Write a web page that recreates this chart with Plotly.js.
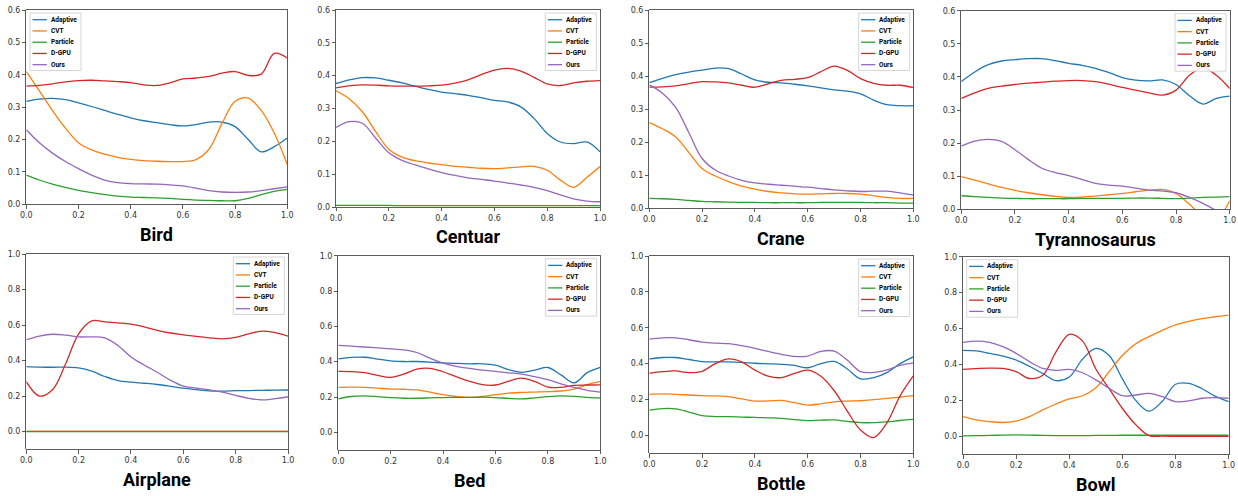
<!DOCTYPE html>
<html><head><meta charset="utf-8">
<script src="https://cdn.plot.ly/plotly-3.0.1.min.js"></script>
<style>html,body{margin:0;padding:0;background:#fff}#chart{width:1238px;height:496px}</style>
</head><body><div id="chart"></div>
<script>
// ---------- data ----------
const xs = [0,0.05,0.1,0.15,0.2,0.25,0.3,0.35,0.4,0.45,0.5,0.55,0.6,0.65,0.7,0.75,0.8,0.85,0.9,0.95,1.0];
const seriesNames = ['Adaptive','CVT','Particle','D-GPU','Ours'];
const panelTitles = ['Bird','Centuar','Crane','Tyrannosaurus','Airplane','Bed','Bottle','Bowl'];
const xTickVals = [0,0.2,0.4,0.6,0.8,1.0];
const yTickValsTop = [0,0.1,0.2,0.3,0.4,0.5,0.6];
const yTickValsBottom = [0,0.2,0.4,0.6,0.8,1.0];

const birdAdaptive = [0.318,0.325,0.327,0.323,0.313,0.302,0.290,0.278,0.267,0.258,0.252,0.246,0.242,0.246,0.254,0.254,0.240,0.200,0.162,0.178,0.205];
const birdCVT      = [0.410,0.350,0.290,0.235,0.190,0.168,0.155,0.145,0.139,0.135,0.133,0.132,0.132,0.138,0.170,0.250,0.318,0.328,0.290,0.220,0.123];
const birdParticle = [0.090,0.075,0.062,0.052,0.043,0.036,0.030,0.025,0.022,0.021,0.020,0.018,0.015,0.013,0.012,0.011,0.011,0.018,0.030,0.040,0.046];
const birdDGPU     = [0.365,0.367,0.372,0.378,0.382,0.383,0.381,0.379,0.376,0.369,0.367,0.375,0.387,0.390,0.395,0.405,0.410,0.398,0.402,0.466,0.452];
const birdOurs     = [0.230,0.190,0.158,0.132,0.110,0.090,0.075,0.067,0.064,0.063,0.062,0.060,0.057,0.050,0.042,0.038,0.037,0.038,0.042,0.048,0.054];

const centuarAdaptive = [0.376,0.387,0.394,0.393,0.386,0.378,0.368,0.358,0.350,0.345,0.340,0.333,0.325,0.320,0.305,0.270,0.224,0.198,0.193,0.198,0.168];
const centuarCVT      = [0.354,0.330,0.290,0.230,0.176,0.152,0.141,0.134,0.129,0.124,0.121,0.118,0.117,0.119,0.122,0.124,0.112,0.082,0.060,0.090,0.123];
const centuarParticle = [0.005,0.005,0.005,0.005,0.005,0.004,0.004,0.004,0.004,0.004,0.004,0.004,0.004,0.004,0.004,0.004,0.004,0.004,0.004,0.004,0.004];
const centuarDGPU     = [0.363,0.369,0.372,0.371,0.369,0.368,0.368,0.369,0.371,0.377,0.387,0.403,0.417,0.422,0.414,0.395,0.375,0.370,0.378,0.383,0.385];
const centuarOurs     = [0.242,0.260,0.255,0.210,0.165,0.142,0.128,0.116,0.105,0.096,0.089,0.084,0.079,0.073,0.067,0.060,0.050,0.037,0.025,0.018,0.016];

const craneAdaptive = [0.380,0.393,0.404,0.412,0.418,0.424,0.422,0.406,0.388,0.381,0.379,0.375,0.370,0.364,0.358,0.354,0.346,0.327,0.313,0.310,0.310];
const craneCVT      = [0.259,0.240,0.215,0.168,0.120,0.097,0.080,0.066,0.057,0.050,0.046,0.043,0.042,0.043,0.044,0.044,0.042,0.037,0.032,0.029,0.029];
const craneParticle = [0.029,0.028,0.026,0.023,0.020,0.019,0.018,0.017,0.017,0.016,0.016,0.016,0.016,0.017,0.017,0.017,0.017,0.016,0.016,0.015,0.015];
const craneDGPU     = [0.366,0.367,0.370,0.377,0.383,0.382,0.379,0.372,0.366,0.376,0.387,0.390,0.395,0.413,0.430,0.417,0.392,0.378,0.372,0.372,0.365];
const craneOurs     = [0.373,0.348,0.305,0.228,0.150,0.115,0.097,0.084,0.076,0.072,0.069,0.066,0.063,0.059,0.055,0.052,0.050,0.051,0.051,0.046,0.039];

const tyrAdaptive = [0.386,0.415,0.437,0.448,0.452,0.455,0.455,0.449,0.441,0.435,0.426,0.413,0.398,0.390,0.388,0.391,0.377,0.343,0.318,0.335,0.342];
const tyrCVT      = [0.099,0.088,0.077,0.066,0.057,0.050,0.044,0.039,0.036,0.037,0.040,0.044,0.048,0.053,0.058,0.060,0.048,0.015,-0.020,-0.030,0.026];
const tyrParticle = [0.041,0.038,0.036,0.034,0.033,0.032,0.032,0.032,0.032,0.033,0.033,0.033,0.033,0.034,0.034,0.033,0.032,0.034,0.036,0.037,0.038];
const tyrDGPU     = [0.335,0.352,0.365,0.372,0.377,0.381,0.384,0.387,0.389,0.389,0.386,0.378,0.368,0.360,0.352,0.345,0.360,0.405,0.427,0.405,0.365];
const tyrOurs     = [0.191,0.206,0.211,0.205,0.180,0.150,0.124,0.111,0.102,0.090,0.078,0.073,0.070,0.064,0.058,0.055,0.050,0.036,0.018,-0.004,-0.030];

const airAdaptive = [0.366,0.363,0.362,0.363,0.358,0.340,0.310,0.287,0.278,0.272,0.265,0.255,0.244,0.236,0.229,0.228,0.230,0.231,0.232,0.233,0.234];
const airCVT      = [0.002,0.002,0.002,0.002,0.002,0.002,0.002,0.002,0.002,0.002,0.002,0.002,0.002,0.002,0.002,0.002,0.002,0.002,0.002,0.002,0.002];
const airParticle = [0,0,0,0,0,0,0,0,0,0,0,0,0,0,0,0,0,0,0,0,0];
const airDGPU     = [0.281,0.200,0.235,0.380,0.550,0.623,0.618,0.612,0.605,0.590,0.570,0.555,0.545,0.536,0.528,0.522,0.530,0.550,0.566,0.557,0.537];
const airOurs     = [0.517,0.538,0.548,0.543,0.533,0.533,0.528,0.485,0.420,0.375,0.334,0.290,0.256,0.245,0.235,0.222,0.204,0.187,0.178,0.185,0.196];

const bedAdaptive = [0.416,0.424,0.425,0.415,0.405,0.401,0.401,0.398,0.393,0.390,0.388,0.388,0.380,0.355,0.340,0.352,0.367,0.325,0.280,0.338,0.368];
const bedCVT      = [0.254,0.256,0.255,0.250,0.245,0.244,0.240,0.228,0.213,0.203,0.198,0.203,0.213,0.222,0.226,0.228,0.230,0.234,0.245,0.270,0.288];
const bedParticle = [0.190,0.203,0.206,0.202,0.196,0.193,0.193,0.195,0.197,0.198,0.198,0.199,0.197,0.192,0.189,0.195,0.202,0.206,0.204,0.198,0.194];
const bedDGPU     = [0.345,0.344,0.338,0.322,0.311,0.330,0.358,0.362,0.343,0.315,0.289,0.270,0.268,0.290,0.307,0.288,0.256,0.255,0.266,0.268,0.269];
const bedOurs     = [0.492,0.488,0.483,0.478,0.473,0.467,0.452,0.420,0.392,0.373,0.362,0.352,0.345,0.337,0.330,0.315,0.298,0.275,0.254,0.238,0.228];

const bottleAdaptive = [0.426,0.434,0.434,0.423,0.411,0.410,0.410,0.407,0.402,0.399,0.396,0.390,0.377,0.400,0.412,0.370,0.315,0.322,0.350,0.400,0.438];
const bottleCVT      = [0.229,0.231,0.229,0.225,0.221,0.220,0.216,0.203,0.191,0.192,0.195,0.182,0.169,0.176,0.187,0.191,0.193,0.199,0.206,0.213,0.221];
const bottleParticle = [0.141,0.149,0.148,0.130,0.110,0.105,0.104,0.102,0.100,0.098,0.095,0.088,0.082,0.085,0.086,0.078,0.071,0.071,0.076,0.083,0.089];
const bottleDGPU     = [0.346,0.355,0.359,0.350,0.357,0.400,0.426,0.410,0.364,0.330,0.322,0.345,0.364,0.330,0.250,0.135,0.030,-0.012,0.070,0.220,0.331];
const bottleOurs     = [0.537,0.544,0.544,0.533,0.520,0.514,0.511,0.500,0.485,0.468,0.452,0.440,0.442,0.468,0.470,0.420,0.355,0.351,0.365,0.390,0.404];

const bowlAdaptive = [0.479,0.476,0.462,0.447,0.425,0.390,0.350,0.310,0.330,0.430,0.490,0.450,0.320,0.200,0.140,0.195,0.290,0.295,0.265,0.222,0.193];
const bowlCVT      = [0.110,0.092,0.082,0.077,0.085,0.110,0.147,0.180,0.208,0.226,0.270,0.360,0.450,0.515,0.555,0.590,0.620,0.640,0.655,0.666,0.675];
const bowlParticle = [0.003,0.004,0.005,0.007,0.008,0.007,0.005,0.004,0.004,0.004,0.005,0.005,0.006,0.006,0.006,0.006,0.006,0.006,0.006,0.006,0.006];
const bowlDGPU     = [0.373,0.377,0.380,0.378,0.360,0.322,0.340,0.470,0.568,0.530,0.375,0.265,0.155,0.065,0.004,0.001,0.000,0.000,0.000,0.000,0.000];
const bowlOurs     = [0.523,0.530,0.523,0.499,0.462,0.416,0.378,0.367,0.373,0.354,0.314,0.267,0.226,0.230,0.239,0.221,0.193,0.197,0.212,0.215,0.212];

// ---------- assembly ----------
const panelSeries = [
  [birdAdaptive, birdCVT, birdParticle, birdDGPU, birdOurs],
  [centuarAdaptive, centuarCVT, centuarParticle, centuarDGPU, centuarOurs],
  [craneAdaptive, craneCVT, craneParticle, craneDGPU, craneOurs],
  [tyrAdaptive, tyrCVT, tyrParticle, tyrDGPU, tyrOurs],
  [airAdaptive, airCVT, airParticle, airDGPU, airOurs],
  [bedAdaptive, bedCVT, bedParticle, bedDGPU, bedOurs],
  [bottleAdaptive, bottleCVT, bottleParticle, bottleDGPU, bottleOurs],
  [bowlAdaptive, bowlCVT, bowlParticle, bowlDGPU, bowlOurs]
];

const W = 1238, H = 496;
const colors = ['#1f77b4','#ff7f0e','#2ca02c','#d62728','#9467bd'];
// plot area boxes in pixels: [left, right, top, bottom]
const boxes = [
  [26.3, 287.3, 10, 204.3],
  [336, 600, 10, 207],
  [649.3, 913.3, 10, 208],
  [961.3, 1229.7, 10.7, 209.3],
  [26.3, 288, 254, 449.3],
  [338.3, 600.3, 255.7, 450],
  [649.3, 913.3, 256, 453.3],
  [963, 1228.7, 256.7, 454.3]
];
const legendSide = ['left','right','right','right','right','right','right','left'];

const px = v => v / W;
const py = v => 1 - v / H;

const traces = [];
const layout = {
  width: W, height: H,
  margin: {l:0, r:0, t:0, b:0},
  paper_bgcolor: '#ffffff', plot_bgcolor: '#ffffff',
  showlegend: false,
  shapes: [], annotations: []
};

const axisCommon = {
  showgrid: false, zeroline: false,
  showline: true, mirror: true, linecolor: '#333', linewidth: 0.8,
  ticks: 'outside', ticklen: 3.5, tickwidth: 0.8, tickcolor: '#333',
  tickfont: {family: 'DejaVu Sans', size: 8, color: '#333'},
  tickformat: '.1f', fixedrange: true
};

panelSeries.forEach((series, p) => {
  const n = p + 1;
  const xa = n === 1 ? 'x' : 'x' + n;
  const ya = n === 1 ? 'y' : 'y' + n;
  const top = p < 4;
  series.forEach((ys, s) => {
    traces.push({
      type: 'scatter', mode: 'lines', x: xs, y: ys,
      name: seriesNames[s], xaxis: xa, yaxis: ya,
      line: {color: colors[s], width: 1.3, shape: 'spline', smoothing: 1},
      hoverinfo: 'skip'
    });
  });
  const [L, R, T, B] = boxes[p];
  layout['xaxis' + (n === 1 ? '' : n)] = Object.assign({}, axisCommon, {
    domain: [px(L), px(R)], range: [0, 1], tickvals: xTickVals, anchor: ya
  });
  layout['yaxis' + (n === 1 ? '' : n)] = Object.assign({}, axisCommon, {
    domain: [py(B), py(T)], range: top ? [0, 0.6] : [-0.1, 1.0],
    tickvals: top ? yTickValsTop : yTickValsBottom, anchor: xa
  });

  // title below the panel
  layout.annotations.push({
    xref: 'paper', yref: 'paper', x: px((L + R) / 2), y: py(B + 30),
    xanchor: 'center', yanchor: 'middle', showarrow: false,
    text: panelTitles[p],
    font: {family: 'Roboto', size: 18, weight: 700, color: '#000'}
  });

  // legend box
  const lw = 51, lh = 57.5;
  const lx = legendSide[p] === 'left' ? L + 3.7 : R - 3.7 - lw;
  const ly = T + 3;
  layout.shapes.push({
    type: 'rect', xref: 'paper', yref: 'paper',
    x0: px(lx), x1: px(lx + lw), y0: py(ly), y1: py(ly + lh),
    fillcolor: 'rgba(255,255,255,0.85)', line: {color: '#cccccc', width: 0.8}, layer: 'above'
  });
  seriesNames.forEach((nm, s) => {
    const cy = ly + 6.7 + 11.25 * s;
    layout.shapes.push({
      type: 'line', xref: 'paper', yref: 'paper',
      x0: px(lx + 2.5), x1: px(lx + 16.8), y0: py(cy), y1: py(cy),
      line: {color: colors[s], width: 1.3}, layer: 'above'
    });
    layout.annotations.push({
      xref: 'paper', yref: 'paper', x: px(lx + 19.5), y: py(cy),
      xanchor: 'left', yanchor: 'middle', showarrow: false,
      text: nm, borderpad: 0,
      font: {family: 'Roboto', size: 6.5, weight: 700, color: '#000'}
    });
  });
});

Plotly.newPlot('chart', traces, layout, {displayModeBar: false, staticPlot: true});
</script>
</body></html>
